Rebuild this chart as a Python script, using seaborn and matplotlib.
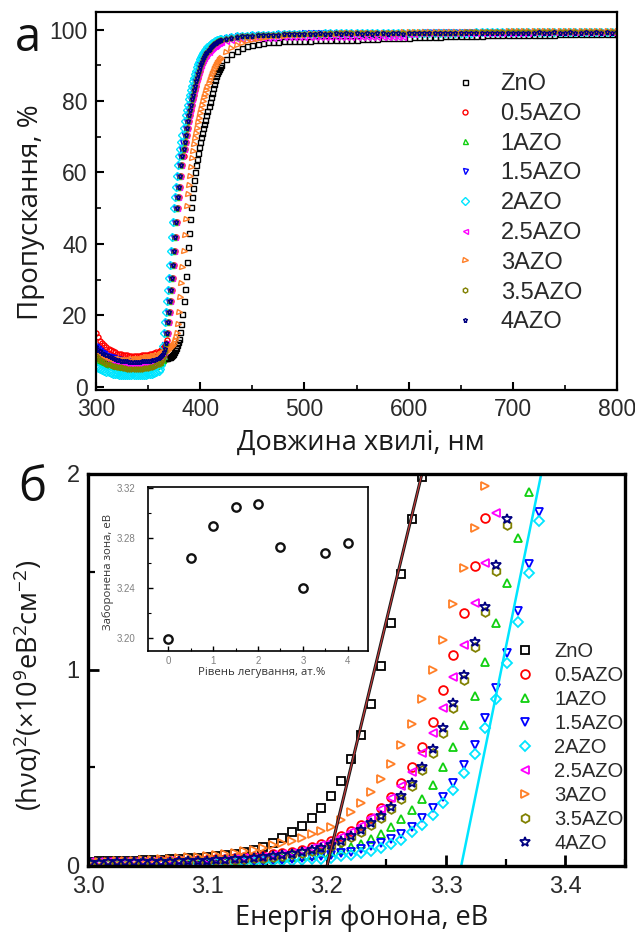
import matplotlib
matplotlib.use("Agg")
import matplotlib.pyplot as plt
import numpy as np
import pandas as pd
import seaborn as sns
from matplotlib.ticker import MultipleLocator, FormatStrFormatter

# ------------------------------------------------------------------ data
SERIES = ["ZnO", "0.5AZO", "1AZO", "1.5AZO", "2AZO", "2.5AZO", "3AZO", "3.5AZO", "4AZO"]
COLORS = ["#000000", "#FF0000", "#10D010", "#0000FF", "#00E5FF", "#FF00FF", "#FF7F27", "#808000", "#000080"]
MARKERS = ["s", "o", "^", "v", "D", "<", ">", "h", "*"]

# (a) transmission spectra, wavelength in nm
WL = [300, 302, 304, 306, 308, 310, 312, 314, 316, 318,
      320, 322, 324, 326, 328, 330, 332, 334, 336, 338,
      340, 342, 344, 346, 348, 350, 352, 354, 356, 358, 360,
      361, 362, 363, 364, 365, 366, 367, 368, 369, 370,
      371, 372, 373, 374, 375, 376, 377, 378, 379, 380,
      381, 382, 383, 384, 385, 386, 387, 388, 389, 390,
      391, 392, 393, 394, 395, 396, 397, 398, 399, 400,
      401, 402, 403, 404, 405, 406, 407, 408, 409, 410,
      411, 412, 413, 414, 415, 416, 417, 418, 419, 420,
      425, 430, 435, 440, 445, 450, 455, 460, 465, 470, 475, 480, 485, 490, 495, 500,
      505, 510, 515, 520, 525, 530, 535, 540, 545, 550,
      555, 560, 565, 570, 575, 580, 585, 590, 595, 600,
      605, 610, 615, 620, 625, 630, 635, 640, 645, 650,
      655, 660, 665, 670, 675, 680, 685, 690, 695, 700,
      705, 710, 715, 720, 725, 730, 735, 740, 745, 750,
      755, 760, 765, 770, 775, 780, 785, 790, 795, 800]

T_ZnO = [8.5, 8.3, 8.1, 7.9, 7.75, 7.6, 7.5, 7.45, 7.4, 7.35,
         7.3, 7.25, 7.2, 7.2, 7.2, 7.2, 7.2, 7.2, 7.2, 7.25,
         7.3, 7.3, 7.35, 7.4, 7.45, 7.5, 7.55, 7.6, 7.6, 7.65, 7.7,
         7.75, 7.8, 7.85, 7.9, 7.95, 8.0, 8.05, 8.1, 8.2, 8.3,
         8.45, 8.6, 8.9, 9.2, 9.7, 10.2, 10.9, 11.6, 12.5, 13.5,
         15.3, 17.5, 20.5, 24.0, 27.5, 31.0, 35.0, 39.0, 43.0, 47.0,
         50.2, 53.0, 55.6, 58.0, 60.1, 62.0, 63.8, 65.5, 67.0, 68.5,
         69.8, 71.0, 72.3, 73.5, 74.8, 76.0, 77.3, 78.5, 79.8, 81.0,
         82.3, 83.5, 84.8, 86.0, 86.9, 87.7, 88.4, 89.0, 89.5, 90.0,
         91.8, 93.2, 94.1, 94.8, 95.3, 95.7, 96.0, 96.2, 96.4, 96.5, 96.6, 96.7, 96.8, 96.8, 96.9, 96.9,
         96.9, 97.0, 97.0, 97.0, 97.1, 97.1, 97.1, 97.1, 97.2, 97.2,
         97.3, 97.3, 97.4, 97.4, 97.5, 97.5, 97.6, 97.6, 97.7, 97.7,
         97.8, 97.8, 97.9, 97.9, 98.0, 98.0, 98.1, 98.1, 98.2, 98.2,
         98.3, 98.3, 98.3, 98.3, 98.4, 98.4, 98.4, 98.4, 98.5, 98.5,
         98.5, 98.5, 98.6, 98.6, 98.6, 98.6, 98.6, 98.6, 98.7, 98.7,
         98.7, 98.7, 98.7, 98.7, 98.8, 98.8, 98.8, 98.8, 98.8, 98.8]
T_05AZO = [15.0, 13.9, 12.9, 12.2, 11.6, 11.0, 10.6, 10.2, 9.9, 9.6,
           9.3, 9.2, 9.05, 8.95, 8.85, 8.8, 8.75, 8.7, 8.7, 8.7,
           8.7, 8.75, 8.8, 8.85, 8.95, 9.0, 9.1, 9.25, 9.4, 9.6, 9.8,
           10.0, 10.3, 10.5, 10.8, 11.1, 11.5, 12.2, 13.0, 15.0, 18.0,
           21.0, 24.0, 27.0, 30.5, 34.0, 38.0, 42.0, 46.0, 50.0, 53.0,
           56.0, 59.0, 62.0, 64.5, 66.5, 68.5, 70.5, 72.5, 74.3, 76.0,
           77.5, 79.0, 80.5, 81.8, 83.0, 84.3, 85.5, 86.5, 87.5, 88.5,
           89.5, 90.3, 91.0, 91.7, 92.3, 92.8, 93.3, 93.8, 94.2, 94.6,
           95.0, 95.3, 95.6, 95.9, 96.1, 96.3, 96.5, 96.7, 96.9, 97.0,
           97.3, 97.6, 97.9, 98.1, 98.2, 98.3, 98.4, 98.5, 98.5, 98.6, 98.6, 98.7, 98.7, 98.7, 98.8, 98.8,
           98.8, 98.8, 98.9, 98.9, 98.9, 98.9, 98.9, 98.9, 99.0, 99.0,
           99.0, 99.0, 99.0, 99.0, 99.0, 99.0, 99.1, 99.1, 99.1, 99.1,
           99.1, 99.1, 99.1, 99.1, 99.1, 99.1, 99.2, 99.2, 99.2, 99.2,
           99.2, 99.2, 99.2, 99.2, 99.2, 99.2, 99.2, 99.2, 99.3, 99.3,
           99.3, 99.3, 99.3, 99.3, 99.3, 99.3, 99.3, 99.3, 99.3, 99.3,
           99.3, 99.3, 99.4, 99.4, 99.4, 99.4, 99.4, 99.4, 99.4, 99.4]
T_1AZO = [8.0, 7.6, 7.2, 6.8, 6.5, 6.3, 6.1, 5.9, 5.75, 5.6,
          5.5, 5.4, 5.35, 5.3, 5.2, 5.1, 5.05, 5.0, 5.0, 5.0,
          5.0, 5.05, 5.1, 5.15, 5.25, 5.3, 5.4, 5.55, 5.7, 5.95, 6.2,
          6.5, 6.8, 7.1, 7.5, 8.5, 11.5, 15.0, 18.0, 21.0, 24.0,
          27.0, 30.5, 34.0, 38.0, 42.0, 46.0, 50.0, 53.0, 56.0, 59.0,
          62.0, 64.5, 66.5, 68.5, 70.5, 72.5, 74.3, 76.0, 77.5, 79.0,
          80.5, 81.8, 83.0, 84.3, 85.5, 86.5, 87.5, 88.5, 89.5, 90.3,
          91.0, 91.7, 92.3, 92.8, 93.3, 93.8, 94.2, 94.6, 95.0, 95.3,
          95.6, 95.9, 96.1, 96.3, 96.5, 96.7, 96.9, 97.0, 97.1, 97.2,
          97.5, 97.8, 98.0, 98.2, 98.3, 98.4, 98.5, 98.6, 98.7, 98.7, 98.8, 98.8, 98.9, 98.9, 99.0, 99.0,
          99.0, 99.0, 99.1, 99.1, 99.1, 99.1, 99.1, 99.1, 99.2, 99.2,
          99.2, 99.2, 99.2, 99.2, 99.3, 99.3, 99.3, 99.3, 99.3, 99.3,
          99.3, 99.3, 99.4, 99.4, 99.4, 99.4, 99.4, 99.4, 99.4, 99.4,
          99.4, 99.4, 99.5, 99.5, 99.5, 99.5, 99.5, 99.5, 99.5, 99.5,
          99.5, 99.5, 99.5, 99.5, 99.5, 99.5, 99.6, 99.6, 99.6, 99.6,
          99.6, 99.6, 99.6, 99.6, 99.6, 99.6, 99.6, 99.6, 99.6, 99.6]
T_15AZO = [11.5, 10.9, 10.3, 9.8, 9.4, 9.0, 8.7, 8.4, 8.2, 8.0,
           7.8, 7.7, 7.55, 7.45, 7.35, 7.3, 7.25, 7.2, 7.2, 7.2,
           7.2, 7.25, 7.3, 7.3, 7.35, 7.4, 7.5, 7.6, 7.75, 7.95, 8.2,
           8.3, 8.5, 8.8, 9.5, 11.8, 15.0, 18.0, 21.0, 24.0, 27.0,
           30.5, 34.0, 38.0, 42.0, 46.0, 50.0, 53.0, 56.0, 59.0, 62.0,
           64.5, 66.5, 68.5, 70.5, 72.5, 74.3, 76.0, 77.5, 79.0, 80.5,
           81.8, 83.0, 84.3, 85.5, 86.5, 87.5, 88.5, 89.5, 90.3, 91.0,
           91.7, 92.3, 92.8, 93.3, 93.8, 94.2, 94.6, 95.0, 95.3, 95.6,
           95.9, 96.1, 96.3, 96.5, 96.7, 96.9, 97.0, 97.1, 97.2, 97.3,
           97.6, 97.9, 98.1, 98.2, 98.3, 98.4, 98.5, 98.5, 98.6, 98.6, 98.7, 98.7, 98.8, 98.8, 98.8, 98.9,
           98.9, 98.9, 98.9, 98.9, 99.0, 99.0, 99.0, 99.0, 99.0, 99.0,
           99.0, 99.0, 99.1, 99.1, 99.1, 99.1, 99.1, 99.1, 99.1, 99.1,
           99.1, 99.1, 99.2, 99.2, 99.2, 99.2, 99.2, 99.2, 99.2, 99.2,
           99.2, 99.2, 99.2, 99.2, 99.3, 99.3, 99.3, 99.3, 99.3, 99.3,
           99.3, 99.3, 99.3, 99.3, 99.3, 99.3, 99.3, 99.3, 99.3, 99.3,
           99.3, 99.3, 99.4, 99.4, 99.4, 99.4, 99.4, 99.4, 99.4, 99.4]
T_2AZO = [5.5, 5.15, 4.85, 4.6, 4.4, 4.2, 4.0, 3.85, 3.7, 3.6,
          3.5, 3.4, 3.35, 3.3, 3.25, 3.2, 3.2, 3.2, 3.2, 3.2,
          3.2, 3.25, 3.3, 3.35, 3.4, 3.5, 3.6, 3.7, 3.85, 4.1, 4.4,
          5.0, 6.0, 8.0, 11.5, 15.0, 18.0, 21.0, 24.0, 27.0, 30.5,
          34.0, 38.0, 42.0, 46.0, 50.0, 53.0, 56.0, 59.0, 62.0, 64.5,
          66.5, 68.5, 70.5, 72.5, 74.3, 76.0, 77.5, 79.0, 80.5, 81.8,
          83.0, 84.3, 85.5, 86.5, 87.5, 88.5, 89.5, 90.3, 91.0, 91.7,
          92.3, 92.8, 93.3, 93.8, 94.2, 94.6, 95.0, 95.3, 95.6, 95.9,
          96.1, 96.3, 96.5, 96.7, 96.9, 97.0, 97.1, 97.2, 97.3, 97.4,
          97.7, 97.9, 98.1, 98.2, 98.3, 98.4, 98.5, 98.5, 98.6, 98.6, 98.7, 98.7, 98.7, 98.8, 98.8, 98.8,
          98.8, 98.8, 98.8, 98.9, 98.9, 98.9, 98.9, 98.9, 98.9, 98.9,
          98.9, 99.0, 99.0, 99.0, 99.0, 99.0, 99.0, 99.0, 99.0, 99.0,
          99.0, 99.1, 99.1, 99.1, 99.1, 99.1, 99.1, 99.1, 99.1, 99.1,
          99.1, 99.1, 99.2, 99.2, 99.2, 99.2, 99.2, 99.2, 99.2, 99.2,
          99.2, 99.2, 99.2, 99.2, 99.2, 99.2, 99.2, 99.2, 99.3, 99.3,
          99.3, 99.3, 99.3, 99.3, 99.3, 99.3, 99.3, 99.3, 99.3, 99.3]
T_25AZO = [10.0, 9.5, 9.0, 8.6, 8.3, 8.0, 7.75, 7.5, 7.3, 7.15,
           7.0, 6.9, 6.75, 6.65, 6.6, 6.5, 6.5, 6.5, 6.5, 6.5,
           6.5, 6.55, 6.6, 6.65, 6.7, 6.8, 6.9, 7.05, 7.2, 7.4, 7.6,
           7.9, 8.2, 8.6, 9.0, 9.6, 10.5, 12.2, 15.0, 18.0, 21.0,
           24.0, 27.0, 30.5, 34.0, 38.0, 42.0, 46.0, 50.0, 53.0, 56.0,
           59.0, 62.0, 64.5, 66.5, 68.5, 70.5, 72.5, 74.3, 76.0, 77.5,
           79.0, 80.5, 81.8, 83.0, 84.3, 85.5, 86.5, 87.5, 88.5, 89.5,
           90.2, 90.8, 91.4, 92.0, 92.5, 93.0, 93.4, 93.8, 94.2, 94.5,
           94.8, 95.0, 95.3, 95.5, 95.7, 95.9, 96.1, 96.2, 96.4, 96.5,
           96.8, 97.1, 97.3, 97.4, 97.5, 97.6, 97.6, 97.7, 97.7, 97.7, 97.8, 97.8, 97.8, 97.8, 97.8, 97.9,
           97.9, 97.9, 97.9, 97.9, 97.9, 97.9, 97.9, 97.9, 97.9, 97.9,
           97.9, 97.9, 97.9, 97.9, 98.0, 98.0, 98.0, 98.0, 98.0, 98.8,
           98.8, 98.9, 98.9, 98.9, 98.9, 99.0, 99.0, 99.0, 99.0, 99.0,
           99.0, 99.0, 99.0, 99.1, 99.1, 99.1, 99.1, 99.1, 99.1, 99.1,
           99.1, 99.1, 99.1, 99.2, 99.2, 99.2, 99.2, 99.2, 99.2, 99.2,
           99.2, 99.2, 99.2, 99.2, 99.2, 99.2, 99.3, 99.3, 99.3, 99.3]
T_3AZO = [9.5, 9.2, 8.9, 8.6, 8.4, 8.2, 8.05, 7.95, 7.85, 7.75,
          7.7, 7.65, 7.6, 7.6, 7.6, 7.6, 7.6, 7.65, 7.7, 7.75,
          7.8, 7.85, 7.95, 8.05, 8.2, 8.3, 8.45, 8.6, 8.75, 8.9, 9.0,
          9.2, 9.3, 9.4, 9.5, 9.6, 9.7, 9.85, 10.0, 10.25, 10.5,
          10.75, 11.0, 11.4, 11.8, 12.3, 13.0, 13.8, 15.0, 17.6, 21.0,
          25.0, 29.0, 33.5, 38.0, 42.5, 47.0, 50.7, 54.0, 56.6, 59.0,
          61.6, 64.0, 66.1, 68.0, 69.5, 71.0, 72.5, 74.0, 75.3, 76.5,
          77.8, 79.0, 80.0, 81.0, 82.0, 83.0, 84.0, 85.0, 85.9, 86.8,
          87.5, 88.2, 88.9, 89.5, 90.0, 90.5, 91.0, 91.4, 91.8, 92.1,
          93.7, 94.8, 95.6, 96.2, 96.7, 97.1, 97.4, 97.7, 97.9, 98.1, 98.2, 98.3, 98.4, 98.5, 98.6, 98.6,
          98.7, 98.7, 98.8, 98.8, 98.8, 98.8, 98.9, 98.9, 98.9, 98.9,
          99.0, 99.0, 99.0, 99.0, 99.1, 99.1, 99.1, 99.1, 99.2, 99.2,
          99.2, 99.2, 99.2, 99.2, 99.3, 99.3, 99.3, 99.3, 99.3, 99.3,
          99.4, 99.4, 99.4, 99.4, 99.4, 99.4, 99.4, 99.4, 99.5, 99.5,
          99.5, 99.5, 99.5, 99.5, 99.5, 99.5, 99.5, 99.5, 99.6, 99.6,
          99.6, 99.6, 99.6, 99.6, 99.6, 99.6, 99.6, 99.6, 99.6, 99.6]
T_35AZO = [8.5, 8.0, 7.5, 7.1, 6.8, 6.5, 6.3, 6.1, 5.9, 5.75,
           5.6, 5.5, 5.4, 5.3, 5.2, 5.1, 5.05, 5.0, 5.0, 5.0,
           5.0, 5.05, 5.1, 5.2, 5.25, 5.3, 5.45, 5.6, 5.8, 6.05, 6.3,
           6.6, 7.0, 7.5, 8.0, 8.8, 10.0, 12.0, 15.0, 18.0, 21.0,
           24.0, 27.0, 30.5, 34.0, 38.0, 42.0, 46.0, 50.0, 53.0, 56.0,
           59.0, 62.0, 64.5, 66.5, 68.5, 70.5, 72.5, 74.3, 76.0, 77.5,
           79.0, 80.5, 81.8, 83.0, 84.3, 85.5, 86.5, 87.5, 88.5, 89.5,
           90.3, 91.0, 91.7, 92.3, 92.8, 93.3, 93.8, 94.2, 94.6, 95.0,
           95.3, 95.6, 95.9, 96.1, 96.3, 96.5, 96.7, 96.9, 97.0, 97.1,
           97.4, 97.7, 97.9, 98.1, 98.2, 98.3, 98.4, 98.5, 98.5, 98.6, 98.6, 98.7, 98.7, 98.7, 98.8, 98.8,
           98.8, 98.8, 98.8, 98.8, 98.9, 98.9, 98.9, 98.9, 98.9, 98.9,
           98.9, 98.9, 99.0, 99.0, 99.0, 99.0, 99.0, 99.0, 99.0, 99.0,
           99.0, 99.1, 99.1, 99.1, 99.1, 99.1, 99.1, 99.1, 99.1, 99.1,
           99.2, 99.2, 99.2, 99.2, 99.2, 99.2, 99.2, 99.2, 99.2, 99.2,
           99.2, 99.2, 99.2, 99.2, 99.3, 99.3, 99.3, 99.3, 99.3, 99.3,
           99.3, 99.3, 99.3, 99.3, 99.3, 99.3, 99.3, 99.3, 99.3, 99.3]
T_4AZO = [11.0, 10.4, 9.9, 9.4, 9.1, 8.8, 8.5, 8.2, 8.0, 7.8,
          7.6, 7.5, 7.35, 7.25, 7.15, 7.1, 7.05, 7.0, 7.0, 7.0,
          7.0, 7.05, 7.1, 7.15, 7.2, 7.2, 7.3, 7.4, 7.6, 7.8, 8.0,
          8.3, 8.6, 8.9, 9.2, 9.7, 10.5, 12.2, 15.0, 18.0, 21.0,
          24.0, 27.0, 30.5, 34.0, 38.0, 42.0, 46.0, 50.0, 53.0, 56.0,
          59.0, 62.0, 64.5, 66.5, 68.5, 70.5, 72.5, 74.3, 76.0, 77.5,
          79.0, 80.5, 81.8, 83.0, 84.3, 85.5, 86.5, 87.5, 88.5, 89.5,
          90.3, 91.0, 91.7, 92.3, 92.8, 93.3, 93.8, 94.2, 94.6, 95.0,
          95.3, 95.6, 95.9, 96.1, 96.3, 96.5, 96.7, 96.9, 97.0, 97.1,
          97.4, 97.7, 97.9, 98.1, 98.2, 98.3, 98.4, 98.5, 98.5, 98.6, 98.6, 98.7, 98.7, 98.7, 98.8, 98.8,
          98.8, 98.7, 98.9, 98.8, 98.7, 98.9, 98.8, 98.9, 98.7, 98.9,
          98.8, 99.0, 98.8, 98.9, 99.0, 98.8, 98.9, 99.0, 98.8, 99.0,
          98.9, 99.0, 98.9, 99.1, 98.9, 99.0, 99.1, 98.9, 99.0, 99.1,
          98.9, 99.1, 99.0, 99.0, 99.1, 98.9, 99.1, 99.0, 99.1, 99.0,
          99.1, 98.9, 99.1, 99.0, 99.2, 99.0, 99.1, 99.2, 99.0, 99.1,
          99.2, 99.0, 99.1, 99.2, 99.0, 99.2, 99.1, 99.2, 99.0, 99.2]
TRANS = [T_ZnO, T_05AZO, T_1AZO, T_15AZO, T_2AZO, T_25AZO, T_3AZO, T_35AZO, T_4AZO]
for _name, _v in zip(SERIES, TRANS):
    assert len(_v) == len(WL), (_name, len(_v), len(WL))

# (b) Tauc plot, photon energy in eV (ascending)
E = [3.0020, 3.0093, 3.0166, 3.0240, 3.0314, 3.0388, 3.0463, 3.0538, 3.0613, 3.0689,
     3.0765, 3.0842, 3.0919, 3.0996, 3.1074, 3.1152, 3.1230, 3.1309, 3.1388, 3.1468,
     3.1548, 3.1629, 3.1710, 3.1791, 3.1873, 3.1955, 3.2037, 3.2120, 3.2204, 3.2288,
     3.2372, 3.2457, 3.2542, 3.2627, 3.2713, 3.2800, 3.2887, 3.2975, 3.3062, 3.3151,
     3.3240, 3.3329, 3.3419, 3.3509, 3.3600, 3.3692, 3.3783, 3.3876]

A_ZnO = [0.018, 0.019, 0.020, 0.021, 0.022, 0.023, 0.025, 0.026, 0.028, 0.030,
         0.032, 0.034, 0.037, 0.040, 0.044, 0.049, 0.056, 0.065, 0.077, 0.094,
         0.113, 0.138, 0.167, 0.199, 0.242, 0.293, 0.353, 0.430, 0.541, 0.665,
         0.822, 1.018, 1.240, 1.488, 1.768, 1.983]
A_05AZO = [0.012, 0.012, 0.013, 0.014, 0.015, 0.016, 0.017, 0.018, 0.019, 0.020,
           0.021, 0.023, 0.025, 0.027, 0.029, 0.032, 0.035, 0.039, 0.043, 0.048,
           0.054, 0.061, 0.069, 0.079, 0.091, 0.106, 0.124, 0.146, 0.172, 0.204,
           0.243, 0.290, 0.346, 0.418, 0.503, 0.605, 0.733, 0.895, 1.074, 1.291,
           1.529, 1.777]
A_1AZO = [0.010, 0.011, 0.011, 0.012, 0.012, 0.013, 0.013, 0.014, 0.014, 0.015,
          0.016, 0.017, 0.018, 0.019, 0.020, 0.021, 0.023, 0.025, 0.027, 0.030,
          0.033, 0.037, 0.041, 0.046, 0.052, 0.059, 0.068, 0.079, 0.093, 0.110,
          0.132, 0.160, 0.196, 0.234, 0.281, 0.336, 0.410, 0.500, 0.602, 0.716,
          0.864, 1.040, 1.236, 1.441, 1.671, 1.910]
A_15AZO = [0.008, 0.009, 0.009, 0.009, 0.010, 0.010, 0.010, 0.011, 0.011, 0.012,
           0.012, 0.013, 0.013, 0.014, 0.015, 0.016, 0.017, 0.018, 0.020, 0.022,
           0.024, 0.027, 0.030, 0.034, 0.039, 0.044, 0.051, 0.059, 0.069, 0.081,
           0.095, 0.112, 0.133, 0.159, 0.196, 0.239, 0.290, 0.349, 0.421, 0.512,
           0.614, 0.750, 0.904, 1.086, 1.301, 1.540, 1.807]
A_2AZO = [0.007, 0.007, 0.007, 0.008, 0.008, 0.008, 0.009, 0.009, 0.009, 0.010,
          0.010, 0.011, 0.011, 0.012, 0.012, 0.013, 0.014, 0.015, 0.016, 0.017,
          0.019, 0.021, 0.023, 0.026, 0.029, 0.033, 0.038, 0.044, 0.051, 0.060,
          0.072, 0.087, 0.105, 0.130, 0.170, 0.205, 0.256, 0.315, 0.384, 0.469,
          0.568, 0.699, 0.847, 1.035, 1.245, 1.492, 1.760]
A_25AZO = [0.013, 0.013, 0.014, 0.014, 0.015, 0.015, 0.016, 0.017, 0.018, 0.019,
           0.020, 0.021, 0.022, 0.024, 0.026, 0.028, 0.031, 0.034, 0.038, 0.043,
           0.049, 0.056, 0.064, 0.074, 0.086, 0.101, 0.119, 0.141, 0.167, 0.199,
           0.238, 0.285, 0.341, 0.404, 0.477, 0.571, 0.674, 0.802, 0.960, 1.125,
           1.339, 1.547, 1.799]
A_3AZO = [0.016, 0.017, 0.018, 0.019, 0.020, 0.022, 0.024, 0.026, 0.029, 0.032,
          0.035, 0.039, 0.043, 0.047, 0.052, 0.057, 0.063, 0.070, 0.078, 0.088,
          0.100, 0.112, 0.125, 0.140, 0.157, 0.175, 0.197, 0.230, 0.270, 0.315,
          0.375, 0.440, 0.518, 0.612, 0.721, 0.847, 0.997, 1.151, 1.335, 1.518,
          1.722, 1.939]
A_35AZO = [0.011, 0.011, 0.012, 0.012, 0.013, 0.013, 0.014, 0.015, 0.016, 0.017,
           0.018, 0.019, 0.020, 0.022, 0.024, 0.026, 0.028, 0.031, 0.034, 0.038,
           0.042, 0.048, 0.055, 0.062, 0.072, 0.083, 0.097, 0.116, 0.141, 0.171,
           0.204, 0.241, 0.286, 0.340, 0.406, 0.486, 0.572, 0.677, 0.803, 0.946,
           1.113, 1.292, 1.505, 1.740]
A_4AZO = [0.012, 0.012, 0.013, 0.013, 0.014, 0.014, 0.015, 0.016, 0.017, 0.018,
          0.019, 0.020, 0.021, 0.023, 0.025, 0.027, 0.029, 0.032, 0.035, 0.039,
          0.044, 0.050, 0.057, 0.065, 0.075, 0.087, 0.102, 0.122, 0.148, 0.179,
          0.213, 0.251, 0.298, 0.353, 0.421, 0.503, 0.592, 0.699, 0.827, 0.972,
          1.142, 1.321, 1.536, 1.768]
TAUC = [A_ZnO, A_05AZO, A_1AZO, A_15AZO, A_2AZO, A_25AZO, A_3AZO, A_35AZO, A_4AZO]

# linear fits (extrapolations) drawn in (b)
FIT_ZNO_E = [3.2005, 3.2798]
FIT_ZNO_Y = [0.0, 2.0]
FIT_2AZO_E = [3.3129, 3.3798]
FIT_2AZO_Y = [0.0, 2.0]

# inset: band gap vs doping
DOPING = [0, 0.5, 1, 1.5, 2, 2.5, 3, 3.5, 4]
GAP = [3.1995, 3.264, 3.290, 3.305, 3.3075, 3.273, 3.240, 3.268, 3.276]

# ------------------------------------------------------------------ style
sns.set_theme(style="ticks")
plt.rcParams["font.family"] = ["Liberation Sans", "DejaVu Sans"]
plt.rcParams["mathtext.fontset"] = "custom"
plt.rcParams["mathtext.rm"] = "Open Sans"
plt.rcParams["mathtext.it"] = "Open Sans:italic"
plt.rcParams["mathtext.bf"] = "Open Sans:bold"
LABEL_FONT = ["Open Sans", "DejaVu Sans"]
TXT = "#1a1a1a"

W, H = 635, 935
fig = plt.figure(figsize=(W / 100, H / 100), dpi=100)


def px_axes(l, t, r, b):
    return fig.add_axes([l / W, 1 - b / H, (r - l) / W, (b - t) / H])


ax1 = px_axes(96, 12, 617, 390)
ax2 = px_axes(88, 474, 625, 866)
axi = px_axes(148, 487, 368, 651)

# ------------------------------------------------------------------ (a)
for name, vals, c, m in zip(SERIES, TRANS, COLORS, MARKERS):
    df = pd.DataFrame({"wl": WL, "T": vals})
    sns.lineplot(data=df, x="wl", y="T", ax=ax1, estimator=None, sort=False,
                 errorbar=None, linestyle="none", marker=m, markersize=3.6,
                 markerfacecolor="none", markeredgecolor=c, markeredgewidth=1.0,
                 color=c, label=name)

ax1.set_xlim(300, 800)
ax1.set_ylim(-0.9, 104.9)
ax1.xaxis.set_major_locator(MultipleLocator(100))
ax1.xaxis.set_minor_locator(MultipleLocator(50))
ax1.yaxis.set_major_locator(MultipleLocator(20))
ax1.yaxis.set_minor_locator(MultipleLocator(10))
ax1.tick_params(which="major", direction="in", length=6, width=1.5, labelsize=16.5,
                pad=6, labelcolor="#2a2a2a", color="black")
ax1.tick_params(which="minor", direction="in", length=3.5, width=1.2, color="black")
for s in ax1.spines.values():
    s.set_linewidth(1.6)
    s.set_color("black")

ax1.set_xlabel("Довжина хвилі, нм", fontsize=19.5, family=LABEL_FONT, color=TXT)
ax1.xaxis.set_label_coords(0.509, -0.140)
ax1.xaxis.label.set_va("center")
ax1.set_ylabel("Пропускання, %", fontsize=20, family=LABEL_FONT, color=TXT)
ax1.yaxis.set_label_coords(-0.125, 0.4696)
ax1.yaxis.label.set_va("center")

h1, l1 = ax1.get_legend_handles_labels()
ax1.legend(h1, l1, loc="upper left", bbox_to_anchor=(451 / W, 1 - 73 / H),
           bbox_transform=fig.transFigure, frameon=False, fontsize=17,
           handlelength=1.2, handletextpad=0.9, labelspacing=0.33,
           borderpad=0, borderaxespad=0, labelcolor="#2a2a2a")

# ------------------------------------------------------------------ (b)
for name, vals, c, m in zip(SERIES, TAUC, COLORS, MARKERS):
    df = pd.DataFrame({"E": E[:len(vals)], "A": vals})
    ms = {"*": 7.5, "h": 6.3, "D": 5.6}.get(m, 6.3)
    sns.lineplot(data=df, x="E", y="A", ax=ax2, estimator=None, sort=False,
                 errorbar=None, linestyle="none", marker=m, markersize=ms,
                 markerfacecolor="none", markeredgecolor=c, markeredgewidth=1.3,
                 color=c, label=name)

fz = pd.DataFrame({"E": FIT_ZNO_E, "A": FIT_ZNO_Y})
sns.lineplot(data=fz, x="E", y="A", ax=ax2, color="#1a1a1a", linewidth=2.2,
             estimator=None, sort=False, legend=False)
sns.lineplot(data=fz, x="E", y="A", ax=ax2, color="#c83a3a", linewidth=0.8,
             estimator=None, sort=False, legend=False)
fc = pd.DataFrame({"E": FIT_2AZO_E, "A": FIT_2AZO_Y})
sns.lineplot(data=fc, x="E", y="A", ax=ax2, color="#00E5FF", linewidth=1.8,
             estimator=None, sort=False, legend=False)

ax2.set_xlim(3.0, 3.45)
ax2.set_ylim(-0.005, 2.0)
ax2.xaxis.set_major_locator(MultipleLocator(0.1))
ax2.xaxis.set_minor_locator(MultipleLocator(0.05))
ax2.yaxis.set_major_locator(MultipleLocator(1))
ax2.yaxis.set_minor_locator(MultipleLocator(0.5))
ax2.xaxis.set_major_formatter(FormatStrFormatter("%.1f"))
ax2.tick_params(which="major", direction="in", length=8, width=2.0, labelsize=17,
                pad=6, labelcolor="#2a2a2a", color="black")
ax2.tick_params(axis="x", which="major", pad=7.5)
ax2.tick_params(which="minor", direction="in", length=5, width=1.6, color="black")
for s in ax2.spines.values():
    s.set_linewidth(2.4)
    s.set_color("black")

ax2.set_xlabel("Енергія фонона, еВ", fontsize=19.5, family=LABEL_FONT, color=TXT)
ax2.xaxis.set_label_coords(0.510, -0.133)
ax2.xaxis.label.set_va("center")
ax2.set_ylabel("(hνα)$^{2}$(×10$^{9}$еВ$^{2}$см$^{-2}$)", fontsize=19.5,
               family=LABEL_FONT, color=TXT)
ax2.yaxis.set_label_coords(-0.110, 0.462)
ax2.yaxis.label.set_va("center")

h2, l2 = ax2.get_legend_handles_labels()
ax2.legend(h2[:9], l2[:9], loc="upper left", bbox_to_anchor=(513 / W, 1 - 642 / H),
           bbox_transform=fig.transFigure, frameon=False, fontsize=14.5,
           handlelength=1.2, handletextpad=0.85, labelspacing=0.25,
           borderpad=0, borderaxespad=0, labelcolor="#2a2a2a")

# ------------------------------------------------------------------ inset
dfi = pd.DataFrame({"d": DOPING, "g": GAP})
sns.lineplot(data=dfi, x="d", y="g", ax=axi, estimator=None, sort=False,
             errorbar=None, linestyle="none", marker="o", markersize=6,
             markerfacecolor="none", markeredgecolor="#111111",
             markeredgewidth=1.7, color="#111111", legend=False)
axi.set_xlim(-0.45, 4.45)
axi.set_ylim(3.1898, 3.321)
axi.xaxis.set_major_locator(MultipleLocator(1))
axi.xaxis.set_minor_locator(MultipleLocator(0.5))
axi.yaxis.set_major_locator(MultipleLocator(0.04))
axi.yaxis.set_minor_locator(MultipleLocator(0.02))
axi.yaxis.set_major_formatter(FormatStrFormatter("%.2f"))
axi.tick_params(which="major", direction="in", length=3.5, width=1.0, labelsize=7,
                labelcolor="#808080", color="black")
axi.tick_params(axis="y", which="major", pad=9)
axi.tick_params(axis="x", which="major", pad=3.5)
axi.tick_params(which="minor", direction="in", length=2, width=0.8, color="black")
for s in axi.spines.values():
    s.set_linewidth(1.2)
    s.set_color("black")
axi.set_xlabel("Рівень легування, ат.%", fontsize=8.2, family=LABEL_FONT, color="#333333")
axi.xaxis.set_label_coords(0.518, -0.134)
axi.xaxis.label.set_va("center")
axi.set_ylabel("Заборонена зона, еВ", fontsize=8.2, family=LABEL_FONT, color="#333333")
axi.yaxis.set_label_coords(-0.182, 0.482)
axi.yaxis.label.set_va("center")

# ------------------------------------------------------------------ panel letters
fig.text(28 / W, 1 - 38 / H, "а", fontsize=34, family=LABEL_FONT, color="#111111",
         ha="center", va="center")
fig.text(32 / W, 1 - 488 / H, "б", fontsize=34, family=LABEL_FONT, color="#111111",
         ha="center", va="center")

fig.savefig("out.png", dpi=100)
